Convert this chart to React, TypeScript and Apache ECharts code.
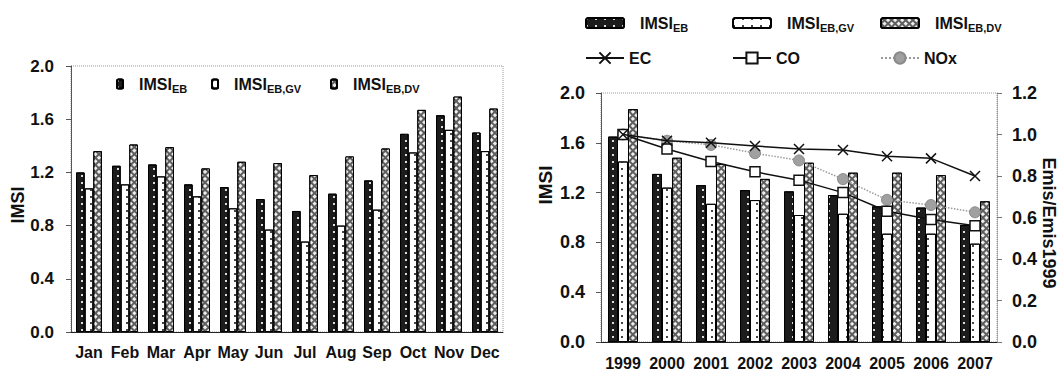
import React, { useEffect, useRef } from "react";
import * as echarts from "echarts";

const months = ["Jan", "Feb", "Mar", "Apr", "May", "Jun", "Jul", "Aug", "Sep", "Oct", "Nov", "Dec"];
const monthEB = [1.2, 1.25, 1.26, 1.11, 1.09, 1.0, 0.91, 1.04, 1.14, 1.49, 1.63, 1.5];
const monthGV = [1.08, 1.11, 1.17, 1.02, 0.93, 0.77, 0.68, 0.8, 0.92, 1.35, 1.52, 1.36];
const monthDV = [1.36, 1.41, 1.39, 1.23, 1.28, 1.27, 1.18, 1.32, 1.38, 1.67, 1.77, 1.68];

const years = ["1999", "2000", "2001", "2002", "2003", "2004", "2005", "2006", "2007"];
const yearEB = [1.65, 1.35, 1.26, 1.22, 1.21, 1.18, 1.09, 1.08, 0.94];
const yearGV = [1.45, 1.24, 1.11, 1.14, 1.02, 1.03, 0.87, 0.87, 0.79];
const yearDV = [1.87, 1.48, 1.43, 1.31, 1.44, 1.36, 1.36, 1.34, 1.13];

const emisEC = [1.0, 0.97, 0.96, 0.945, 0.93, 0.925, 0.895, 0.885, 0.8];
const emisCO = [1.0, 0.93, 0.87, 0.82, 0.78, 0.72, 0.63, 0.59, 0.56];
const emisNOx = [1.0, 0.97, 0.95, 0.91, 0.875, 0.785, 0.685, 0.66, 0.625];

const imsiTicks = { min: 0, max: 2, interval: 0.4 };
const emisTicks = { min: 0, max: 1.2, interval: 0.2 };

const subs: Record<string, string> = { EB: "EB", GV: "EB,GV", DV: "EB,DV" };

const FONT = "Liberation Sans, Arial, sans-serif";

export default function App() {
  const ref = useRef<HTMLDivElement>(null);
  useEffect(() => {
    if (!ref.current) return;
    const chart = echarts.init(ref.current, null, { renderer: "svg" });

    const ebStyle = {
      color: "#1c1c1c",
      borderColor: "#000",
      borderWidth: 1,
      decal: {
        symbol: "rect",
        symbolSize: 1,
        color: "rgba(255,255,255,0.85)",
        dashArrayX: [1.5, 7],
        dashArrayY: [1.5, 4.5],
      },
    };
    const gvStyle = {
      color: "#ffffff",
      borderColor: "#000",
      borderWidth: 1,
      decal: {
        symbol: "rect",
        symbolSize: 1,
        color: "#444",
        dashArrayX: [1.2, 7],
        dashArrayY: [1.2, 4.8],
      },
    };
    const dvStyle = {
      color: "#5e5e5e",
      borderColor: "#000",
      borderWidth: 1,
      decal: {
        symbol: "rect",
        symbolSize: 1,
        rotation: Math.PI / 4,
        color: "#eeeeee",
        dashArrayX: [2.2, 1.4],
        dashArrayY: [2.2, 1.4],
      },
    };

    const rich = {
      m: { fontSize: 16, fontWeight: "bold", fontFamily: FONT, color: "#111", lineHeight: 20 },
      s: { fontSize: 11, fontWeight: "bold", fontFamily: FONT, color: "#111", lineHeight: 8, verticalAlign: "bottom" },
      p: { fontSize: 16, fontWeight: "bold", fontFamily: FONT, color: "#111", lineHeight: 20, padding: [0, 0, 0, 11] },
    };

    const barLegend = (name: string, left: number, top: number, w: number, h: number, pad: boolean) => ({
      data: [name],
      left,
      top,
      padding: 0,
      itemWidth: w,
      itemHeight: h,
      selectedMode: false,
      formatter: (n: string) => (pad ? `{p|IMSI}{s|${subs[n]}}` : `{m|IMSI}{s|${subs[n]}}`),
      textStyle: { rich },
    });
    const lineLegend = (name: string, left: number, top: number) => ({
      data: [name],
      left,
      top,
      padding: 0,
      itemWidth: 38,
      itemHeight: 14,
      selectedMode: false,
      textStyle: { fontSize: 16, fontWeight: "bold", fontFamily: FONT, color: "#111" },
    });

    const axisLabel = (size: number, margin: number) => ({
      fontSize: size,
      fontWeight: "bold",
      fontFamily: FONT,
      color: "#111",
      margin,
    });

    const xSymbol = "path://M0,0L10,10M10,0L0,10";

    chart.setOption({
      animation: false,
      backgroundColor: "#fff",
      grid: [
        { left: 71, top: 66, width: 432, height: 266, show: true, borderColor: "#999", borderWidth: 1, borderType: "dotted" },
        { left: 601, top: 93, width: 396, height: 251, show: true, borderColor: "#999", borderWidth: 1, borderType: "dotted" },
      ],
      legend: [
        barLegend("EB", 116, 76, 6, 9, true),
        barLegend("GV", 211, 76, 6, 9, true),
        barLegend("DV", 330, 76, 6, 9, true),
        barLegend("EB", 585, 15, 38, 10, true),
        barLegend("GV", 732, 15, 38, 10, true),
        barLegend("DV", 880, 15, 38, 10, true),
        lineLegend("EC", 585, 50),
        lineLegend("CO", 732, 50),
        lineLegend("NOx", 880, 50),
      ],
      xAxis: [
        {
          type: "category",
          gridIndex: 0,
          data: months,
          axisLine: { lineStyle: { color: "#222", width: 1 } },
          axisTick: { length: 4, lineStyle: { color: "#222" } },
          axisLabel: { ...axisLabel(16, 12), interval: 0, hideOverlap: false },
        },
        {
          type: "category",
          gridIndex: 1,
          data: years,
          axisLine: { lineStyle: { color: "#222", width: 1 } },
          axisTick: { length: 4, lineStyle: { color: "#222" } },
          axisLabel: { ...axisLabel(16, 13), interval: 0, hideOverlap: false },
        },
      ],
      yAxis: [
        {
          type: "value",
          gridIndex: 0,
          ...imsiTicks,
          splitLine: { show: false },
          axisLine: { show: true, lineStyle: { color: "#555" } },
          axisTick: { show: true, length: 5, lineStyle: { color: "#555" } },
          axisLabel: { ...axisLabel(17, 17), formatter: (v: number) => v.toFixed(1) },
        },
        {
          type: "value",
          gridIndex: 1,
          ...imsiTicks,
          splitLine: { show: false },
          axisLine: { show: true, lineStyle: { color: "#555" } },
          axisTick: { show: true, length: 5, lineStyle: { color: "#555" } },
          axisLabel: { ...axisLabel(18, 16), formatter: (v: number) => v.toFixed(1) },
        },
        {
          type: "value",
          gridIndex: 1,
          position: "right",
          ...emisTicks,
          splitLine: { show: false },
          axisLine: { show: true, lineStyle: { color: "#999", type: "dotted" } },
          axisTick: { show: true, length: 5, lineStyle: { color: "#777" } },
          axisLabel: { ...axisLabel(18, 15), formatter: (v: number) => v.toFixed(1) },
        },
      ],
      series: [
        { name: "EB", type: "bar", xAxisIndex: 0, yAxisIndex: 0, data: monthEB, itemStyle: ebStyle, barGap: "0%", barCategoryGap: "28%" },
        { name: "GV", type: "bar", xAxisIndex: 0, yAxisIndex: 0, data: monthGV, itemStyle: gvStyle, barGap: "0%", barCategoryGap: "28%" },
        { name: "DV", type: "bar", xAxisIndex: 0, yAxisIndex: 0, data: monthDV, itemStyle: dvStyle, barGap: "0%", barCategoryGap: "28%" },
        { name: "EB", type: "bar", xAxisIndex: 1, yAxisIndex: 1, data: yearEB, itemStyle: ebStyle, barGap: "0%", barCategoryGap: "32%" },
        { name: "GV", type: "bar", xAxisIndex: 1, yAxisIndex: 1, data: yearGV, itemStyle: gvStyle, barGap: "0%", barCategoryGap: "32%" },
        { name: "DV", type: "bar", xAxisIndex: 1, yAxisIndex: 1, data: yearDV, itemStyle: dvStyle, barGap: "0%", barCategoryGap: "32%" },
        {
          name: "NOx",
          type: "line",
          xAxisIndex: 1,
          yAxisIndex: 2,
          data: emisNOx,
          symbol: "circle",
          symbolSize: 11,
          lineStyle: { color: "#9a9a9a", width: 1.5, type: "dotted" },
          itemStyle: { color: "#a0a0a0", borderColor: "#8a8a8a", borderWidth: 1 },
          z: 4,
        },
        {
          name: "CO",
          type: "line",
          xAxisIndex: 1,
          yAxisIndex: 2,
          data: emisCO,
          symbol: "rect",
          symbolSize: 10,
          lineStyle: { color: "#111", width: 1.5 },
          itemStyle: { color: "#fff", borderColor: "#111", borderWidth: 1.5 },
          z: 5,
        },
        {
          name: "EC",
          type: "line",
          xAxisIndex: 1,
          yAxisIndex: 2,
          data: emisEC,
          symbol: xSymbol,
          symbolSize: 10,
          lineStyle: { color: "#111", width: 1.5 },
          itemStyle: { color: "#111", borderColor: "#111", borderWidth: 1.5 },
          z: 6,
        },
      ],
      graphic: [
        {
          type: "text",
          x: 18,
          y: 205,
          rotation: Math.PI / 2,
          style: { text: "IMSI", fontSize: 18, fontWeight: "bold", fontFamily: FONT, fill: "#111", align: "center", verticalAlign: "middle" },
        },
        {
          type: "text",
          x: 545,
          y: 185,
          rotation: Math.PI / 2,
          style: { text: "IMSI", fontSize: 19, fontWeight: "bold", fontFamily: FONT, fill: "#111", align: "center", verticalAlign: "middle" },
        },
        {
          type: "text",
          x: 1049,
          y: 223,
          rotation: -Math.PI / 2,
          style: { text: "Emis/Emis1999", fontSize: 18, fontWeight: "bold", fontFamily: FONT, fill: "#111", align: "center", verticalAlign: "middle" },
        },
      ],
    });
    return () => chart.dispose();
  }, []);
  return <div ref={ref} style={{ position: "absolute", left: 0, top: 0, width: 1058, height: 371 }} />;
}
